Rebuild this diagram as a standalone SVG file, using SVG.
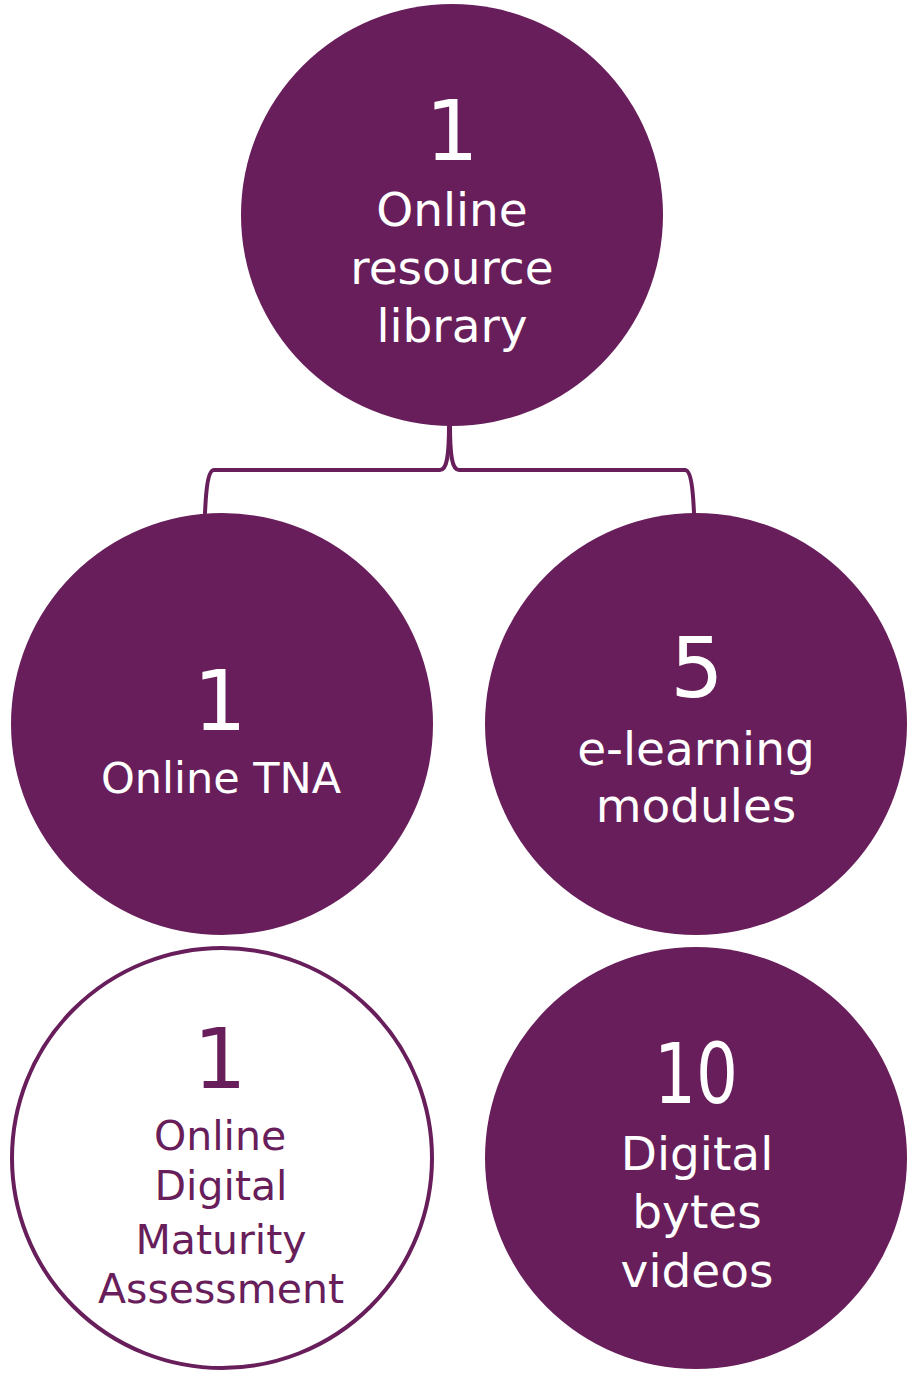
<svg xmlns="http://www.w3.org/2000/svg" width="910" height="1373" viewBox="0 0 910 1373">
<style>
.fill{fill:#681E5A}
.ring{fill:#ffffff;stroke:#681E5A;stroke-width:4}
text{font-family:"DejaVu Sans","Liberation Sans",sans-serif;text-anchor:middle;font-weight:normal}
.w{fill:#ffffff}
.p{fill:#681E5A}
.num{font-size:84px}
.lbl{font-size:47px}
.lbls{font-size:41px}
.conn{fill:none;stroke:#681E5A;stroke-width:4;stroke-linecap:round;stroke-linejoin:round}
</style>
<rect width="910" height="1373" fill="#ffffff"/>
<g id="connectors">
<path class="conn" d="M449,426 C449,455 447,470 440,470 L214,470 C208,470 206,490 205,513"/>
<path class="conn" d="M450,426 C450,455 452,470 459,470 L685,470 C691,470 693,490 694,513"/>
</g>
<g id="node-library">
<circle class="fill" cx="452" cy="215" r="211"/>
<text class="w num" x="452" y="160">1</text>
<text class="w lbl" x="452" y="226">Online</text>
<text class="w lbl" x="452" y="284">resource</text>
<text class="w lbl" x="452" y="342">library</text>
</g>
<g id="node-tna">
<circle class="fill" cx="222" cy="724" r="211"/>
<text class="w num" x="220" y="730">1</text>
<text class="w lbl" x="221" y="793" style="font-size:43px">Online TNA</text>
</g>
<g id="node-elearning">
<circle class="fill" cx="696" cy="724" r="211"/>
<text class="w num" x="697" y="697">5</text>
<text class="w lbl" x="696" y="765">e-learning</text>
<text class="w lbl" x="696" y="822">modules</text>
</g>
<g id="node-maturity">
<circle class="ring" cx="222" cy="1158" r="210"/>
<text class="p num" x="220" y="1088">1</text>
<text class="p lbls" x="220" y="1150">Online</text>
<text class="p lbls" x="221" y="1200">Digital</text>
<text class="p lbls" x="221" y="1254">Maturity</text>
<text class="p lbls" x="221" y="1303">Assessment</text>
</g>
<g id="node-videos">
<circle class="fill" cx="696" cy="1158" r="211"/>
<text class="w num" x="696" y="1103" textLength="84" lengthAdjust="spacingAndGlyphs">10</text>
<text class="w lbl" x="697" y="1170">Digital</text>
<text class="w lbl" x="697" y="1228">bytes</text>
<text class="w lbl" x="697" y="1287">videos</text>
</g>
</svg>
